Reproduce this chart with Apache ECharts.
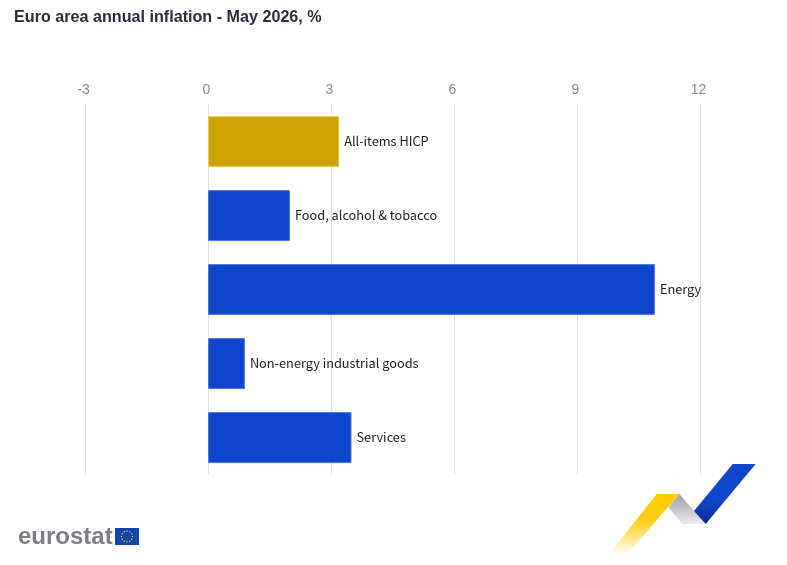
<!DOCTYPE html>
<html>
<head>
<meta charset="utf-8">
<style>html,body{margin:0;padding:0;background:#fff}#chart{width:787px;height:565px}</style>
<script src="https://cdn.jsdelivr.net/npm/echarts@6/dist/echarts.min.js"></script>
</head>
<body>
<div id="chart"></div>
<script>
// Euro area annual inflation, May 2026, by main component (%)
const categories = ['All-items HICP', 'Food, alcohol & tobacco', 'Energy', 'Non-energy industrial goods', 'Services'];
const inflation = [3.2, 2.0, 10.9, 0.9, 3.5];
const barColors = ['#cca300', '#1046cb', '#1046cb', '#1046cb', '#1046cb'];
const barEdges = ['#e0c860', '#4a78dc', '#4a78dc', '#4a78dc', '#4a78dc'];
const axisMin = -3, axisMax = 12, axisStep = 3;
const titleText = 'Euro area annual inflation - May 2026, %';

// Ring of twelve stars for the flag beside the wordmark
function flagStars(cx, cy, r) {
  const stars = [];
  for (let i = 0; i < 12; i++) {
    const a = i / 12 * Math.PI * 2;
    stars.push({
      type: 'circle',
      shape: { cx: cx + r * Math.cos(a), cy: cy + r * Math.sin(a), r: 0.7 },
      style: { fill: '#ffd617' }
    });
  }
  return stars;
}

function vertical(y0Color, y1Color) {
  return new echarts.graphic.LinearGradient(0, 0, 0, 1, [
    { offset: 0, color: y0Color }, { offset: 1, color: y1Color }
  ]);
}

const chart = echarts.init(document.getElementById('chart'), null, { renderer: 'canvas' });
chart.setOption({
  animation: false,
  backgroundColor: '#ffffff',
  title: {
    text: titleText, left: 14, top: 10, padding: 0,
    textStyle: { fontFamily: 'Liberation Sans', fontSize: 16.15, fontWeight: 'bold', color: '#2a2e3a' }
  },
  grid: { left: 85, right: 87, top: 104.6, bottom: 90.4, containLabel: false },
  xAxis: {
    type: 'value', position: 'top', min: axisMin, max: axisMax, interval: axisStep,
    axisLine: { show: false }, axisTick: { show: false },
    axisLabel: {
      fontFamily: 'Liberation Sans', fontSize: 14, color: '#8a8a8a', margin: 7,
      padding: [0, 3, 0, 0]
    },
    splitLine: { show: true, lineStyle: { color: '#e2e2e2', width: 1 } }
  },
  yAxis: {
    type: 'category', inverse: true, data: categories,
    axisLine: { show: false }, axisTick: { show: false }, axisLabel: { show: false },
    splitLine: { show: false }
  },
  series: [{
    type: 'bar',
    barWidth: 51,
    data: inflation.map((v, i) => ({
      value: v,
      itemStyle: { color: barColors[i], borderColor: barEdges[i], borderWidth: 1 }
    })),
    label: {
      show: true, position: 'right', distance: 5, formatter: '{b}',
      fontFamily: 'Noto Sans CJK SC', fontSize: 12.75, color: '#1c1c1c', offset: [0, -0.6]
    }
  }],
  graphic: [
    {
      type: 'text', left: 18, top: 525,
      style: { text: 'eurostat', fontFamily: 'Liberation Sans', fontWeight: 'bold', fontSize: 24, fill: '#7b7e86' }
    },
    { type: 'rect', shape: { x: 115, y: 528, width: 24, height: 17 }, style: { fill: '#1147ad' } },
    ...flagStars(127, 536.5, 5.5),
    {
      type: 'polygon',
      shape: { points: [[656.7, 494], [679.3, 494], [626.7, 555], [608.3, 555]] },
      style: { fill: new echarts.graphic.LinearGradient(0, 0, 0, 1, [
        { offset: 0, color: '#ffcc00' }, { offset: 0.45, color: '#ffcf1a' }, { offset: 1, color: '#ffffff' }
      ]) }
    },
    {
      type: 'polygon',
      shape: { points: [[679.3, 494], [705.7, 524], [682.3, 524], [668.3, 507.3]] },
      style: { fill: vertical('#9c9ea4', '#ececf0') }
    },
    {
      type: 'polygon',
      shape: { points: [[732.7, 464], [755.7, 464], [705.7, 524], [694, 511]] },
      style: { fill: new echarts.graphic.LinearGradient(0, 0, 0, 1, [
        { offset: 0, color: '#1046cb' }, { offset: 0.6, color: '#1046cb' }, { offset: 1, color: '#0a2c8c' }
      ]) }
    }
  ]
});
</script>
</body>
</html>
